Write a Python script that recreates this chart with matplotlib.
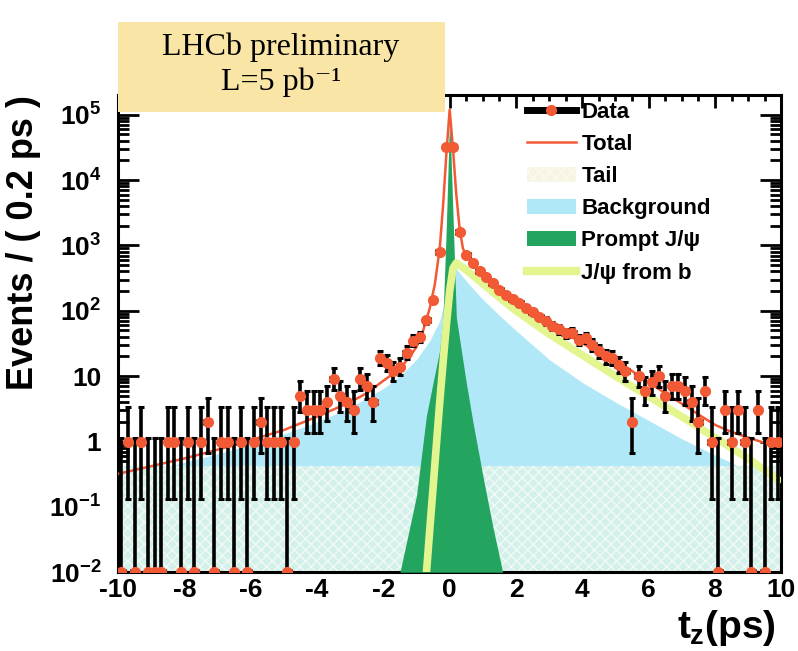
import numpy as np
import matplotlib.pyplot as plt
from matplotlib.lines import Line2D
from matplotlib.patches import Patch, Rectangle
from matplotlib.ticker import LogLocator, MultipleLocator, NullFormatter

plt.rcParams['font.family'] = ['Liberation Sans', 'DejaVu Sans']
plt.rcParams['font.weight'] = 'bold'
plt.rcParams['mathtext.fontset'] = 'custom'
plt.rcParams['mathtext.rm'] = 'Liberation Sans:bold'
plt.rcParams['mathtext.it'] = 'Liberation Sans:bold'
plt.rcParams['mathtext.bf'] = 'Liberation Sans:bold'
plt.rcParams['hatch.linewidth'] = 1.0

# binned data, 0.2 ps bins from -10 to 10
bin_edges = np.linspace(-10, 10, 101)
counts = [0, 1, 0, 1, 0, 0, 0, 1, 1, 0, 1, 0, 1, 2, 0, 1, 1, 0, 1, 0,
          1, 2, 1, 1, 1, 0, 1, 5, 3, 3, 3, 4, 9, 5, 4, 3, 9, 7, 4, 19,
          16, 12, 14, 23, 35, 40, 72, 145, 780, 32000,
          32000, 1600, 720, 540, 400, 330, 270, 210, 175, 150,
          130, 110, 95, 80, 70, 58, 52, 45, 46, 36,
          38, 30, 24, 20, 19, 15, 12, 2, 10, 6,
          8, 10, 5, 7, 7, 6, 4, 2, 6, 1,
          0, 3, 1, 3, 1, 0, 3, 0, 1, 1]

# fit components
tot_t = [-10, -9, -8, -7, -6, -5, -4, -3, -2.5, -2, -1.5, -1.2, -1, -0.8, -0.6,
         -0.45, -0.3, -0.2, -0.1, 0, 0.1, 0.2, 0.3, 0.4, 0.5, 0.7, 1.0, 1.5, 2,
         2.5, 3, 3.5, 4, 4.5, 5, 5.5, 6, 6.5, 7, 7.5, 8, 8.5, 9, 9.5, 10]
tot_v = [0.32, 0.42, 0.55, 0.75, 1.05, 1.5, 2.4, 4.0, 5.5, 8.5, 13, 20, 28, 50, 110,
         250, 900, 4000, 25000, 120000, 30000, 6000, 1800, 900, 700, 520, 380, 230, 145,
         95, 64, 45, 32, 23, 16.5, 12, 8, 5.5, 3.8, 2.6, 1.8, 1.4, 1.15, 0.95, 0.85]

bkg_t = [-10, -9, -8, -7, -6, -5, -4, -3, -2, -1.5, -1, -0.6, -0.3, -0.15, 0,
         0.15, 0.3, 0.6, 1, 1.5, 2, 2.5, 3, 4, 5, 6, 7, 8, 9, 10]
bkg_v = [0.28, 0.36, 0.48, 0.65, 0.9, 1.3, 2.0, 3.3, 6.5, 10, 18, 35, 70, 150, 350,
         480, 380, 250, 150, 85, 50, 30, 18, 8, 4, 2.1, 1.1, 0.62, 0.36, 0.22]

tail_t = [-10, 10]
tail_v = [0.42, 0.42]

prompt_t = [-1.5, -1.2, -1.0, -0.7, -0.5, -0.3, -0.2, -0.1, 0, 0.1, 0.2, 0.35, 0.5, 0.7, 1.0, 1.3, 1.6]
prompt_v = [0.01, 0.05, 0.15, 2.5, 8, 25, 80, 2000, 100000, 3000, 80, 25, 8, 2, 0.3, 0.05, 0.01]

fromb_t = [-0.7, -0.6, -0.5, -0.4, -0.3, -0.2, -0.1, 0, 0.1, 0.2, 0.5, 1, 1.5, 2, 3, 4, 5, 6, 7, 8, 9, 10]
fromb_v = [0.01, 0.045, 0.2, 0.9, 4, 16, 60, 200, 450, 540, 420, 260, 160, 100, 44, 21, 10, 4.9, 2.4, 1.15, 0.55, 0.24]

red = '#f25a35'
blue = '#b0e8f8'
green = '#23a45f'
lime = '#e2f58f'
ymin = 1e-2

fig = plt.figure(figsize=(7.98, 6.51), dpi=100)
ax = fig.add_axes([0.148, 0.121, 0.831, 0.733])
ax.set_yscale('log')
ax.set_xlim(-10, 10)
ax.set_ylim(ymin, 2.0e5)

ax.fill_between(bkg_t, ymin, bkg_v, color=blue, lw=0, zorder=1)
ax.fill_between(tail_t, ymin, tail_v, facecolor='#d3f0ea', edgecolor='#f2faf5',
                hatch='xxx', lw=0, zorder=2)
ax.fill_between(prompt_t, ymin, prompt_v, color=green, lw=0, zorder=3)
ax.plot(fromb_t, fromb_v, color=lime, lw=5.5, solid_capstyle='butt', zorder=4)
ax.plot(tot_t, tot_v, color=red, lw=1.8, zorder=5)

n = np.array(counts, dtype=float)
centers = 0.5 * (bin_edges[:-1] + bin_edges[1:])
y = np.where(n > 0, n, ymin)
lo = np.where(n > 0, n - np.sqrt(np.clip(n - 0.25, 0, None)), ymin)
hi = np.where(n > 0, n + np.sqrt(n + 0.75) + 1, 1.15)
ax.errorbar(centers, y, yerr=[y - lo, hi - y], xerr=0.1, fmt='none', ecolor='black',
            elinewidth=2.6, capsize=2.5, capthick=2.2, zorder=6)
ax.plot(centers, y, 'o', color=red, ms=7, zorder=7)

# axes styling
for s in ax.spines.values():
    s.set_linewidth(2.2)
ax.set_xticks(np.arange(-10, 11, 2))
ax.set_xticklabels([str(v) for v in range(-10, 11, 2)])
ax.xaxis.set_minor_locator(MultipleLocator(0.5))
ax.set_yticks([1e-2, 1e-1, 1, 10, 1e2, 1e3, 1e4, 1e5])
ax.set_yticklabels([r'$10^{-2}$', r'$10^{-1}$', '1', '10', r'$10^{2}$', r'$10^{3}$',
                    r'$10^{4}$', r'$10^{5}$'])
ax.yaxis.set_minor_locator(LogLocator(base=10, subs=np.arange(2, 10)))
ax.yaxis.set_minor_formatter(NullFormatter())
ax.tick_params(axis='both', which='both', direction='in', top=True, right=True,
               labelsize=19, width=2)
ax.tick_params(axis='x', which='major', length=9, pad=4)
ax.tick_params(axis='x', which='minor', length=4.5)
ax.tick_params(axis='y', which='major', length=15, pad=12)
ax.tick_params(axis='y', which='minor', length=8)

ax.set_ylabel('Events / ( 0.2 ps )', fontsize=26, fontweight='bold', labelpad=6, loc='top')
fig.text(0.972, 0.036, r'$t_z$(ps)', fontsize=28, fontweight='bold', ha='right', va='center')

# LHCb label box, drawn over the top frame
fig.patches.append(Rectangle((0.148, 0.828), 0.410, 0.138, transform=fig.transFigure,
                             facecolor='#f9e6a6', edgecolor='none', zorder=5))
fig.text(0.352, 0.928, 'LHCb preliminary', ha='center', va='center', fontsize=23,
         family=['Liberation Serif', 'DejaVu Serif'], fontweight='normal', zorder=6)
fig.text(0.352, 0.874, 'L=5 pb\u207b\u00b9', ha='center', va='center', fontsize=23,
         family=['Liberation Serif', 'DejaVu Serif'], fontweight='normal', zorder=6)

handles = [
    (Line2D([], [], color='black', lw=5), Line2D([], [], marker='o', color=red, ls='none', ms=7)),
    Line2D([], [], color=red, lw=1.8),
    Patch(facecolor='#f7f4e2', edgecolor='#fbfaf0', hatch='xxx', lw=0),
    Patch(facecolor=blue, lw=0),
    Patch(facecolor=green, lw=0),
    Line2D([], [], color=lime, lw=6),
]
labels = ['Data', 'Total', 'Tail', 'Background', 'Prompt J/\u03c8', 'J/\u03c8 from b']
ax.legend(handles, labels, loc='upper left', bbox_to_anchor=(0.613, 0.99), frameon=False,
          fontsize=16, handlelength=2.2, handletextpad=0.25, labelspacing=0.5,
          borderpad=0.1, borderaxespad=0)

fig.savefig('out.png', dpi=100)
